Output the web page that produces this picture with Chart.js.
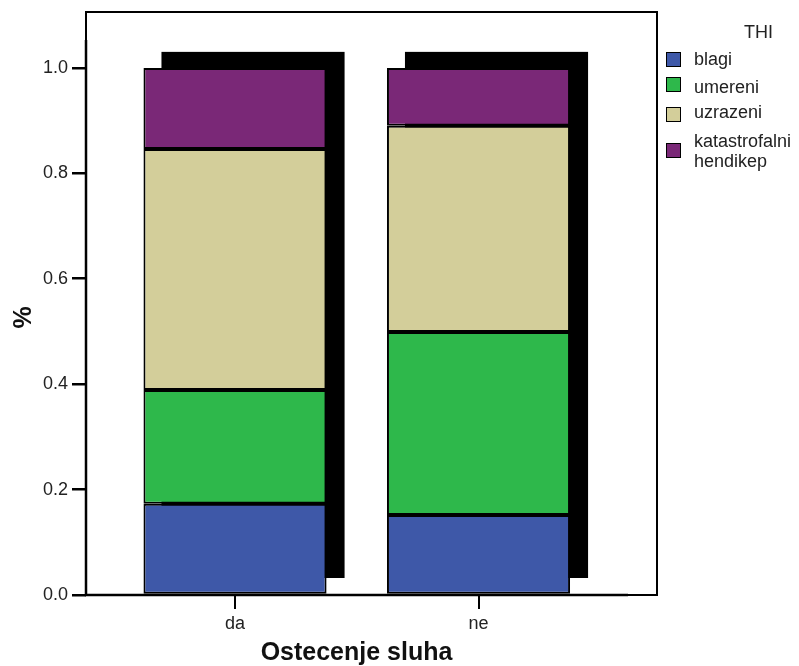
<!DOCTYPE html>
<html>
<head>
<meta charset="utf-8">
<script src="https://cdn.jsdelivr.net/npm/chart.js@4"></script>
<style>
  html,body{margin:0;padding:0;background:#fff;}
  #wrap{position:relative;width:799px;height:666px;font-family:"Liberation Sans",Arial,sans-serif;color:#222;}
  canvas{position:absolute;left:0;top:0;}
  #legend{position:absolute;left:0;top:0;font-size:18px;}
  #legend .ttl{position:absolute;left:744px;top:22px;white-space:nowrap;line-height:21px;}
  #legend .box{position:absolute;left:666px;width:13px;height:13px;border:1.5px solid #000;}
  #legend .lab{position:absolute;left:694px;line-height:20px;white-space:nowrap;}
</style>
</head>
<body>
<div id="wrap">
<canvas id="c" width="799" height="666"></canvas>
<div id="legend"></div>
</div>
<script>
const categories = ['da', 'ne'];
const seriesNames = ['blagi', 'umereni', 'uzrazeni', 'katastrofalni\nhendikep'];
const blagi = [0.173, 0.152];
const umereni = [0.216, 0.347];
const uzrazeni = [0.457, 0.391];
const katastrofalni = [0.154, 0.110];
const yTicks = [0, 0.2, 0.4, 0.6, 0.8, 1.0];
const colors = ['#3E58A8', '#2EB84B', '#D3CE9A', '#7A2877'];
const seriesValues = [blagi, umereni, uzrazeni, katastrofalni];

const datasets = seriesValues.map((vals, k) => ({
  label: seriesNames[k],
  data: vals.map((v, i) => ({x: i, y: v})),
  backgroundColor: colors[k],
  borderColor: '#000',
  borderWidth: 2,
  borderSkipped: false,
  categoryPercentage: 1,
  barPercentage: 0.752
}));

const shadowPlugin = {
  id: 'shadow',
  beforeDatasetsDraw(chart) {
    const ctx = chart.ctx;
    const n = chart.data.datasets.length;
    const topMeta = chart.getDatasetMeta(n - 1);
    const yScale = chart.scales.y;
    ctx.save();
    ctx.fillStyle = '#000';
    topMeta.data.forEach(bar => {
      const p = bar.getProps(['x', 'y', 'width'], true);
      const left = p.x - p.width / 2 + 18;
      const right = p.x + p.width / 2 + 18;
      const top = p.y - 16;
      const bottom = yScale.getPixelForValue(0) - 17;
      ctx.fillRect(left, top, right - left, bottom - top);
    });
    ctx.restore();
  }
};

const framePlugin = {
  id: 'frame',
  afterDraw(chart) {
    const a = chart.chartArea;
    const ctx = chart.ctx;
    ctx.save();
    ctx.strokeStyle = '#000';
    ctx.lineWidth = 2;
    ctx.strokeRect(a.left, a.top, a.right - a.left, a.bottom - a.top);
    ctx.lineWidth = 2.5;
    ctx.beginPath();
    ctx.moveTo(a.left, a.top + 28);
    ctx.lineTo(a.left, a.bottom);
    ctx.lineTo(a.right - 29, a.bottom);
    ctx.stroke();
    // axis titles
    ctx.fillStyle = '#111';
    ctx.font = 'bold 25px "Liberation Sans", Arial, sans-serif';
    ctx.textAlign = 'center';
    ctx.textBaseline = 'alphabetic';
    ctx.fillText('Ostecenje sluha', (a.left + a.right) / 2 - 15, 660);
    ctx.translate(31, (a.top + a.bottom) / 2 + 14);
    ctx.rotate(-Math.PI / 2);
    ctx.fillText('%', 0, 0);
    ctx.restore();
  }
};

new Chart(document.getElementById('c'), {
  type: 'bar',
  data: { datasets },
  options: {
    responsive: false,
    animation: false,
    layout: { padding: { left: 0, right: 142, top: 12, bottom: 0 } },
    plugins: { legend: { display: false }, tooltip: { enabled: false } },
    scales: {
      x: {
        type: 'linear',
        stacked: true,
        offset: false,
        min: -0.612,
        max: 1.733,
        afterBuildTicks(s) { s.ticks = categories.map((c, i) => ({ value: i })); },
        afterFit(s) { s.height = 71; s.paddingLeft = 0; s.paddingRight = 0; },
        ticks: {
          callback: (v) => categories[v] ?? '',
          color: '#222',
          font: { family: 'Liberation Sans, Arial', size: 18 },
          padding: 4
        },
        grid: { drawOnChartArea: false, offset: false, tickLength: 14, color: '#000', lineWidth: 2 },
        border: { display: false }
      },
      y: {
        stacked: true,
        min: 0,
        max: 1.106,
        afterBuildTicks(s) { s.ticks = yTicks.map(v => ({ value: v })); },
        afterFit(s) { s.width = 86; s.paddingTop = 0; s.paddingBottom = 0; },
        ticks: {
          callback: (v) => Number(v).toFixed(1),
          color: '#222',
          font: { family: 'Liberation Sans, Arial', size: 18 },
          padding: 4
        },
        grid: { drawOnChartArea: false, tickLength: 14, color: '#000', lineWidth: 2.5 },
        border: { display: false }
      }
    }
  },
  plugins: [shadowPlugin, framePlugin]
});

// HTML legend
const lg = document.getElementById('legend');
const t = document.createElement('div');
t.className = 'ttl'; t.textContent = 'THI'; lg.appendChild(t);
const boxTops = [52, 77, 107, 143];
const labTops = [49, 77, 102, 131];
seriesNames.forEach((name, k) => {
  const b = document.createElement('div');
  b.className = 'box'; b.style.top = boxTops[k] + 'px'; b.style.background = colors[k];
  lg.appendChild(b);
  const l = document.createElement('div');
  l.className = 'lab'; l.style.top = labTops[k] + 'px';
  l.innerHTML = name.split('\n').join('<br>');
  lg.appendChild(l);
});
</script>
</body>
</html>
